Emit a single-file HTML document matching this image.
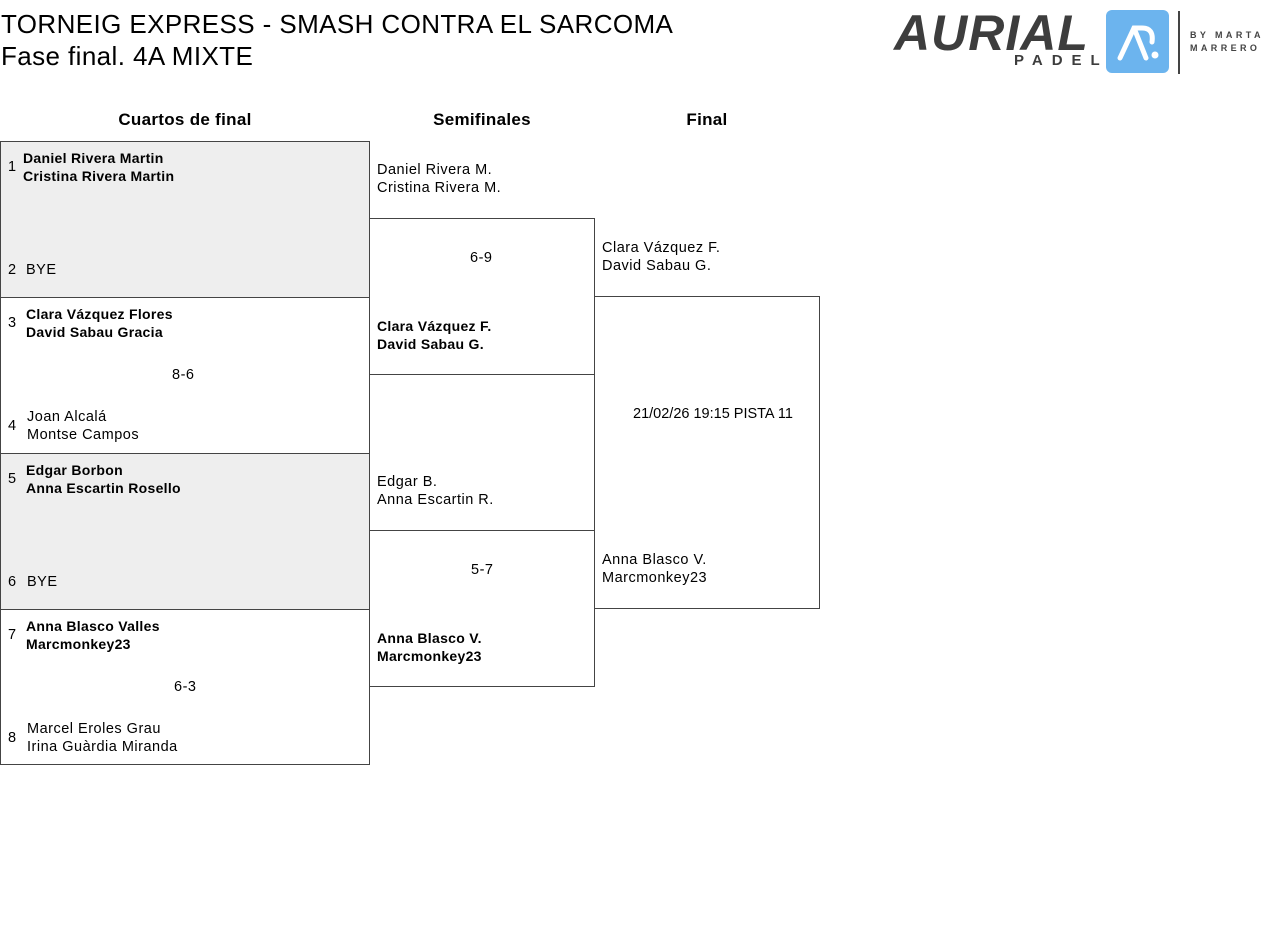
<!DOCTYPE html>
<html><head><meta charset="utf-8"><style>
body{margin:0;width:1280px;height:949px;background:#fff;font-family:"Liberation Sans",sans-serif;color:#000;position:relative;overflow:hidden}
div,span{position:absolute}
.t{font-size:14.5px;line-height:18px;white-space:nowrap;letter-spacing:0.5px}
.b{font-weight:bold;font-size:14px;letter-spacing:0.3px}
.box{border:1px solid #444;box-sizing:border-box}
.g{background:#eee}
.h{font-size:17px;font-weight:bold;width:200px;text-align:center;letter-spacing:0.3px}
</style></head><body>
<div style="left:1px;top:8px;font-size:26px;line-height:32px;letter-spacing:0.4px">TORNEIG EXPRESS - SMASH CONTRA EL SARCOMA<br>Fase final. 4A MIXTE</div>

<!-- logo -->
<div style="left:894px;top:6px;font-size:50px;font-weight:bold;font-style:italic;color:#3d3d3d;letter-spacing:1px;line-height:54px">AURIAL</div>
<div style="left:1014px;top:52px;font-size:15px;font-weight:bold;color:#3d3d3d;letter-spacing:9px">PADEL</div>
<div style="left:1106px;top:10px;width:63px;height:63px;background:#6cb4ee;border-radius:6px"></div>
<svg style="position:absolute;left:1106px;top:10px" width="63" height="63"><path d="M14 48 L28 18 L36 18 Q48 18 46 32" stroke="#fff" stroke-width="5" fill="none" stroke-linecap="round"/><path d="M28 18 L40 48" stroke="#fff" stroke-width="5" stroke-linecap="round"/><circle cx="49" cy="45" r="3.5" fill="#fff"/></svg>
<div style="left:1178px;top:11px;width:2px;height:63px;background:#444"></div>
<div style="left:1190px;top:29px;font-size:9px;font-weight:bold;color:#444;letter-spacing:3.4px;line-height:13px">BY MARTA<br>MARRERO</div>

<div class="h" style="left:85px;top:110px">Cuartos de final</div>
<div class="h" style="left:382px;top:110px">Semifinales</div>
<div class="h" style="left:607px;top:110px">Final</div>

<div class="box g" style="left:0;top:141px;width:370px;height:157px"></div>
<div class="box" style="left:0;top:297px;width:370px;height:157px"></div>
<div class="box g" style="left:0;top:453px;width:370px;height:157px"></div>
<div class="box" style="left:0;top:609px;width:370px;height:156px"></div>
<div class="box" style="left:369px;top:218px;width:226px;height:157px"></div>
<div class="box" style="left:369px;top:530px;width:226px;height:157px"></div>
<div class="box" style="left:594px;top:296px;width:226px;height:313px"></div>

<div class="t" style="left:8px;top:158px">1</div>
<div class="t b" style="left:23px;top:149px">Daniel Rivera Martin<br>Cristina Rivera Martin</div>
<div class="t" style="left:8px;top:261px">2</div><div class="t" style="left:26px;top:261px">BYE</div>

<div class="t" style="left:8px;top:314px">3</div>
<div class="t b" style="left:26px;top:305px">Clara Vázquez Flores<br>David Sabau Gracia</div>
<div class="t" style="left:172px;top:366px">8-6</div>
<div class="t" style="left:8px;top:417px">4</div>
<div class="t" style="left:27px;top:408px">Joan Alcalá<br>Montse Campos</div>

<div class="t" style="left:8px;top:470px">5</div>
<div class="t b" style="left:26px;top:461px">Edgar Borbon<br>Anna Escartin Rosello</div>
<div class="t" style="left:8px;top:573px">6</div><div class="t" style="left:27px;top:573px">BYE</div>

<div class="t" style="left:8px;top:626px">7</div>
<div class="t b" style="left:26px;top:617px">Anna Blasco Valles<br>Marcmonkey23</div>
<div class="t" style="left:174px;top:678px">6-3</div>
<div class="t" style="left:8px;top:729px">8</div>
<div class="t" style="left:27px;top:720px">Marcel Eroles Grau<br>Irina Guàrdia Miranda</div>

<div class="t" style="left:377px;top:161px">Daniel Rivera M.<br>Cristina Rivera M.</div>
<div class="t" style="left:470px;top:249px">6-9</div>
<div class="t b" style="left:377px;top:317px">Clara Vázquez F.<br>David Sabau G.</div>
<div class="t" style="left:377px;top:473px">Edgar B.<br>Anna Escartin R.</div>
<div class="t" style="left:471px;top:561px">5-7</div>
<div class="t b" style="left:377px;top:629px">Anna Blasco V.<br>Marcmonkey23</div>

<div class="t" style="left:602px;top:239px">Clara Vázquez F.<br>David Sabau G.</div>
<div class="t" style="left:633px;top:405px;letter-spacing:0">21/02/26 19:15 PISTA 11</div>
<div class="t" style="left:602px;top:551px">Anna Blasco V.<br>Marcmonkey23</div>
</body></html>
